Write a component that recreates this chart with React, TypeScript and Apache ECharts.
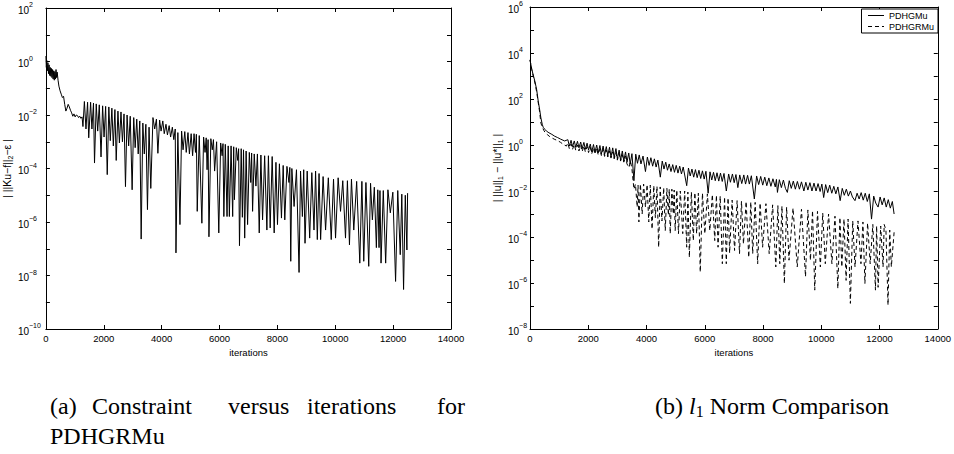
import React, { useEffect, useRef } from 'react';
import * as echarts from 'echarts';

// ---------- axis values ----------
const xMin = 0;
const xMax = 14000;
const xStep = 2000;
const leftYTicks = [1e2, 1e1, 1, 1e-1, 1e-2, 1e-3, 1e-4, 1e-5, 1e-6, 1e-7, 1e-8, 1e-9, 1e-10];
const leftYLabels = [1e2, 1, 1e-2, 1e-4, 1e-6, 1e-8, 1e-10];
const rightYTicks = [1e6, 1e5, 1e4, 1e3, 1e2, 1e1, 1, 1e-1, 1e-2, 1e-3, 1e-4, 1e-5, 1e-6, 1e-7, 1e-8];
const rightYLabels = [1e6, 1e4, 1e2, 1, 1e-2, 1e-4, 1e-6, 1e-8];
const legendNames = ['PDHGMu', 'PDHGRMu'];

// ---------- (a) constraint | ||Ku-f||_2 - eps | vs iterations ----------
const constraintData: [number, number][] = [
  [0, 1.6], [15, 0.6], [30, 1.1], [50, 0.45], [70, 0.9], [90, 0.35], [110, 0.75], [130, 0.3], [150, 0.6], [170, 0.28],
  [190, 0.55], [210, 0.25], [230, 0.5], [250, 0.22], [270, 0.45], [290, 0.2], [310, 0.42], [330, 0.22], [350, 0.5], [370, 0.25],
  [390, 0.4], [420, 0.2], [450, 0.12], [490, 0.08], [530, 0.06], [570, 0.045], [610, 0.05], [650, 0.025], [690, 0.014], [730, 0.018],
  [770, 0.025], [810, 0.02], [850, 0.015], [890, 0.012], [930, 0.009], [970, 0.011], [1010, 0.0085], [1050, 0.01], [1090, 0.0095], [1130, 0.008],
  [1170, 0.009], [1210, 0.0075], [1250, 0.0085], [1280, 0.0037],
  [1330, 0.032], [1385, 0.003], [1440, 0.03], [1480, 0.0014], [1545, 0.03], [1590, 0.003], [1645, 0.028], [1680, 0.00016],
  [1740, 0.026], [1790, 0.0025], [1845, 0.024], [1905, 0.00027], [1960, 0.022], [2010, 0.0015], [2065, 0.021], [2120, 0.000059],
  [2175, 0.02], [2225, 0.0011], [2280, 0.018], [2330, 0.0007], [2385, 0.016], [2430, 0.0002], [2490, 0.014], [2540, 0.0009],
  [2595, 0.013], [2645, 0.001], [2700, 0.011], [2750, 0.000021], [2805, 0.01], [2860, 0.0007], [2915, 0.009], [2980, 0.000016],
  [3035, 0.008], [3085, 0.0006], [3140, 0.007], [3190, 0.00035], [3245, 0.006], [3292, 2.3e-7], [3350, 0.005], [3400, 0.00035],
  [3455, 0.0045], [3510, 2.9e-6], [3565, 0.0035], [3625, 0.000018],
  [3700, 0.008], [3760, 0.003], [3820, 0.007], [3870, 0.00037], [3930, 0.0065], [3980, 0.0025], [4040, 0.006], [4090, 0.002],
  [4150, 0.0045], [4200, 0.0018], [4260, 0.004], [4310, 0.0015], [4370, 0.0035], [4420, 0.0012], [4470, 0.003], [4495, 7e-8],
  [4560, 0.0022], [4633, 8e-7], [4690, 0.0025], [4740, 0.0005], [4800, 0.0024], [4850, 0.0004], [4910, 0.0022], [4960, 0.00035],
  [5020, 0.002], [5070, 0.0003], [5120, 0.002], [5170, 0.0004], [5200, 0.0019], [5230, 2.5e-6], [5300, 0.0017], [5390, 9e-7],
  [5450, 0.0015], [5500, 0.0004], [5540, 0.0014], [5570, 0.00009], [5605, 0.0012], [5635, 2.8e-7], [5700, 0.0013], [5750, 0.0005],
  [5790, 0.0012], [5830, 0.00008], [5900, 0.001], [5975, 3.9e-7], [6040, 0.0009], [6090, 0.0003], [6120, 0.00085], [6150, 1.6e-6],
  [6200, 0.0008], [6260, 1.6e-6], [6300, 0.0007], [6340, 1.6e-6], [6400, 0.0007], [6455, 1.6e-6], [6490, 0.00065], [6515, 6.8e-6],
  [6580, 0.0006], [6630, 0.0002], [6660, 0.00055], [6690, 1.3e-7], [6750, 0.00055], [6790, 1.5e-6], [6830, 0.0005], [6870, 2.5e-7],
  [6920, 0.00045], [6970, 8e-7], [7030, 0.0004], [7080, 0.00003], [7110, 0.00038], [7143, 2.5e-6], [7200, 0.00035], [7258, 0.000022],
  [7310, 0.00035], [7373, 3.9e-7], [7430, 0.00032], [7488, 1.2e-6], [7560, 0.0003], [7637, 5e-7], [7690, 0.0003], [7751, 6e-7],
  [7820, 0.00028], [7889, 3.9e-7], [7950, 0.00017], [8003, 8e-7], [8070, 0.00015], [8141, 1.4e-6], [8200, 0.00013], [8256, 1.2e-6],
  [8330, 0.00012], [8400, 0.00003], [8430, 0.00011], [8462, 3.4e-8], [8500, 0.0001], [8577, 3.8e-6], [8660, 0.00009], [8749, 1.3e-8],
  [8800, 0.00008], [8864, 1.6e-6], [8910, 0.00009], [8955, 1.6e-7], [9030, 0.00008], [9116, 2.5e-7], [9190, 0.00007], [9265, 5e-7],
  [9320, 0.00008], [9380, 2.2e-7], [9440, 0.000065], [9494, 2.2e-7], [9580, 0.00005], [9666, 5e-7], [9760, 0.000045], [9861, 2.2e-7],
  [9940, 0.00004], [10010, 2.5e-7], [10100, 0.000045], [10182, 2.5e-6], [10260, 0.000035], [10354, 2.5e-7], [10420, 0.000035], [10491, 1.4e-7],
  [10560, 0.00004], [10640, 5e-7], [10740, 0.000033], [10848, 2.9e-8], [10920, 0.000033], [10985, 3.4e-8], [11060, 0.00003], [11157, 2.2e-8],
  [11220, 0.000028], [11283, 1.2e-6], [11350, 0.00002], [11421, 1.1e-7], [11470, 0.000016], [11513, 1.1e-7], [11545, 0.000015], [11582, 2.9e-8],
  [11660, 0.000015], [11742, 2.9e-8], [11820, 0.000016], [11903, 2.2e-6], [11990, 0.000013], [12085, 6e-9], [12160, 0.000015], [12246, 6e-8],
  [12300, 0.000011], [12361, 3e-9], [12420, 0.00001], [12476, 9e-8], [12500, 0.000012],
];

// ---------- (b) | ||u||_1 - ||u*||_1 | : PDHGMu (solid) ----------
const pdhgmuData: [number, number][] = [
  [0, 5000], [60, 2000], [120, 1000], [170, 575], [230, 250], [283, 80], [330, 35], [374, 15], [420, 8], [453, 5.9],
  [510, 4.8], [566, 4], [650, 3.4], [750, 2.9], [850, 2.4], [950, 2.1], [1050, 1.8], [1189, 1.5],
  [1300, 1.7], [1350, 0.9], [1410, 1.6], [1460, 0.85], [1520, 1.5], [1570, 0.8], [1630, 1.45], [1680, 0.75], [1740, 1.35], [1790, 0.7],
  [1850, 1.3], [1900, 0.65], [1960, 1.2], [2010, 0.6], [2070, 1.1], [2120, 0.5], [2180, 1.05], [2230, 0.48], [2290, 1.0], [2340, 0.45],
  [2400, 0.95], [2450, 0.4], [2510, 0.9], [2560, 0.38], [2620, 0.85], [2670, 0.35], [2730, 0.8], [2780, 0.3], [2840, 0.75], [2890, 0.28],
  [2950, 0.7], [3000, 0.25], [3060, 0.6], [3110, 0.22], [3170, 0.55], [3220, 0.2], [3280, 0.5], [3330, 0.18], [3390, 0.45], [3440, 0.15],
  [3500, 0.42], [3568, 0.028], [3630, 0.4], [3690, 0.16], [3750, 0.37], [3810, 0.15], [3880, 0.33], [3964, 0.07], [4030, 0.3], [4090, 0.13],
  [4150, 0.28], [4210, 0.12], [4270, 0.25], [4330, 0.11], [4390, 0.22], [4474, 0.04], [4540, 0.2], [4600, 0.09], [4660, 0.18], [4720, 0.08],
  [4780, 0.15], [4840, 0.07], [4900, 0.14], [4960, 0.065], [5020, 0.13], [5080, 0.06], [5140, 0.12], [5200, 0.055], [5260, 0.11], [5380, 0.017],
  [5440, 0.1], [5500, 0.045], [5560, 0.09], [5620, 0.04], [5680, 0.085], [5740, 0.038], [5800, 0.08], [5860, 0.035], [5920, 0.075], [5980, 0.033],
  [6040, 0.072], [6116, 0.008], [6180, 0.068], [6240, 0.03], [6300, 0.065], [6360, 0.028], [6420, 0.062], [6480, 0.027], [6540, 0.06], [6600, 0.026],
  [6660, 0.058], [6740, 0.01], [6820, 0.055], [6880, 0.024], [6950, 0.055], [7010, 0.023], [7070, 0.052], [7136, 0.014], [7200, 0.05], [7270, 0.021],
  [7340, 0.05], [7400, 0.02], [7470, 0.048], [7530, 0.02], [7600, 0.046], [7702, 0.0045], [7780, 0.045], [7850, 0.019], [7920, 0.043], [7990, 0.018],
  [8060, 0.04], [8130, 0.017], [8200, 0.037], [8270, 0.016], [8340, 0.034], [8420, 0.015], [8460, 0.032], [8495, 0.0087], [8560, 0.031], [8630, 0.014],
  [8700, 0.03], [8770, 0.013], [8835, 0.0087], [8900, 0.028], [8970, 0.013], [9040, 0.027], [9110, 0.012], [9180, 0.026], [9250, 0.012], [9320, 0.025],
  [9402, 0.01], [9470, 0.024], [9540, 0.011], [9610, 0.023], [9680, 0.01], [9750, 0.022], [9820, 0.01], [9890, 0.021], [9960, 0.0095], [10020, 0.02],
  [10082, 0.0052], [10150, 0.019], [10220, 0.0085], [10290, 0.018], [10360, 0.008], [10430, 0.016], [10500, 0.0075], [10570, 0.015], [10648, 0.0038], [10720, 0.013],
  [10790, 0.0065], [10860, 0.012], [10930, 0.006], [11000, 0.01], [11070, 0.0055], [11157, 0.0038], [11230, 0.008], [11300, 0.0045], [11370, 0.0085], [11440, 0.004],
  [11510, 0.008], [11580, 0.0035], [11650, 0.0075], [11725, 0.0006], [11800, 0.006], [11870, 0.003], [11951, 0.002], [12020, 0.0055], [12090, 0.0025], [12160, 0.005],
  [12230, 0.002], [12300, 0.0042], [12370, 0.0018], [12440, 0.0035], [12500, 0.001],
];

// ---------- (b) PDHGRMu (dashed) ----------
const pdhgrmuData: [number, number][] = [
  [0, 5000], [60, 1900], [120, 900], [170, 500], [230, 200], [283, 70], [330, 28], [374, 9], [420, 6], [480, 4.2],
  [540, 3.2], [600, 2.8], [680, 2.3], [760, 2], [850, 1.75], [950, 1.55], [1050, 1.3], [1150, 1.05], [1250, 0.9],
  [1300, 1.2], [1350, 0.7], [1410, 1.1], [1460, 0.65], [1520, 1.05], [1570, 0.6], [1630, 1.0], [1680, 0.55], [1740, 0.95], [1790, 0.52],
  [1850, 0.9], [1900, 0.5], [1960, 0.85], [2010, 0.47], [2070, 0.8], [2120, 0.42], [2180, 0.75], [2230, 0.4], [2290, 0.72], [2340, 0.38],
  [2400, 0.68], [2450, 0.35], [2510, 0.65], [2560, 0.32], [2620, 0.6], [2670, 0.3], [2730, 0.55], [2780, 0.27], [2840, 0.5], [2890, 0.25],
  [2950, 0.46], [3000, 0.22], [3060, 0.42], [3110, 0.2], [3170, 0.38], [3220, 0.18], [3280, 0.33], [3330, 0.15], [3398, 0.105], [3450, 0.2],
  [3500, 0.09], [3568, 0.012], [3620, 0.02], [3680, 0.002], [3710, 0.018], [3738, 0.00045], [3790, 0.02], [3851, 0.001], [3900, 0.02], [3964, 0.002],
  [4020, 0.019], [4077, 0.00045], [4130, 0.018], [4191, 0.00022], [4250, 0.017], [4304, 0.0007], [4360, 0.016], [4417, 0.000036], [4470, 0.015], [4530, 0.0005],
  [4590, 0.014], [4644, 0.00019], [4700, 0.013], [4750, 0.0009], [4780, 0.012], [4814, 0.00014], [4870, 0.012], [4920, 0.001], [4950, 0.011], [4984, 0.00019],
  [5040, 0.011], [5097, 0.00014], [5160, 0.01], [5244, 0.00014], [5310, 0.01], [5380, 0.000036], [5420, 0.009], [5471, 0.000013], [5540, 0.009], [5607, 0.00007],
  [5660, 0.0085], [5720, 0.00014], [5780, 0.008], [5845, 3e-6], [5920, 0.008], [6003, 0.00014], [6090, 0.0075], [6173, 0.00019], [6260, 0.007], [6343, 0.00007],
  [6400, 0.0065], [6456, 0.000036], [6530, 0.006], [6603, 6.9e-6], [6680, 0.0055], [6739, 6.9e-6], [6800, 0.005], [6853, 0.00002], [6940, 0.004], [7023, 0.000026],
  [7110, 0.0038], [7193, 0.000019], [7260, 0.0036], [7328, 0.00005], [7420, 0.0035], [7510, 0.000013], [7580, 0.0033], [7646, 0.000019], [7730, 0.0032], [7816, 6.9e-6],
  [7900, 0.003], [7986, 0.000036], [8100, 0.0028], [8212, 0.000019], [8330, 0.0025], [8439, 5e-6], [8510, 0.0023], [8575, 6.9e-6], [8650, 0.0022], [8733, 9.5e-7],
  [8810, 0.002], [8892, 9.8e-6], [9030, 0.0018], [9175, 5e-6], [9320, 0.0016], [9459, 1.9e-6], [9540, 0.0015], [9628, 9.8e-6], [9700, 0.0014], [9776, 4.9e-7],
  [9870, 0.0013], [9968, 5e-6], [10050, 0.0011], [10138, 6.9e-6], [10250, 0.001], [10365, 6.9e-6], [10470, 0.0008], [10569, 5.8e-7], [10640, 0.0007], [10705, 5e-6],
  [10780, 0.0006], [10852, 1.3e-6], [10920, 0.0006], [10999, 1.3e-7], [11080, 0.0005], [11158, 5e-6], [11260, 0.0005], [11362, 6.9e-6], [11430, 0.00045], [11498, 9.5e-7],
  [11590, 0.0004], [11679, 6.9e-6], [11770, 0.00035], [11860, 4.9e-7], [11900, 0.0003], [11951, 6.5e-7], [12040, 0.0003], [12121, 5e-6], [12160, 0.00035], [12220, 0.0002],
  [12291, 1.1e-7], [12350, 0.0002], [12405, 5e-6], [12500, 0.00016],
];

const SANS = '"Liberation Sans", Arial, Helvetica, sans-serif';
const SERIF = '"Liberation Serif", "Times New Roman", serif';

export default function App() {
  const ref = useRef<HTMLDivElement>(null);

  useEffect(() => {
    const el = ref.current;
    if (!el) return;
    const chart = echarts.init(el, null, { renderer: 'svg' });

    const supLabel = (v: number) => {
      const e = Math.round(Math.log10(v));
      return `{b|10}{s|${e < 0 ? '−' + -e : e}}`;
    };
    const labelRich = {
      b: { fontSize: 10, fontFamily: SANS, color: '#000', lineHeight: 14, verticalAlign: 'bottom' },
      s: { fontSize: 7, fontFamily: SANS, color: '#000', lineHeight: 8, verticalAlign: 'top' },
    };
    const black = { color: '#000', width: 1 };

    const xAxis = (gridIndex: number, bottom: boolean) => ({
      type: 'value',
      gridIndex,
      min: xMin,
      max: xMax,
      interval: xStep,
      position: bottom ? 'bottom' : 'top',
      axisLine: { show: true, onZero: false, lineStyle: black },
      axisTick: { show: true, inside: true, length: 4, lineStyle: black },
      axisLabel: bottom
        ? { show: true, color: '#000', fontSize: 9.5, fontFamily: SANS, margin: 4, formatter: (v: number) => String(v) }
        : { show: false },
      splitLine: { show: false },
      name: bottom ? 'iterations' : '',
      nameLocation: 'middle',
      nameGap: 16,
      nameTextStyle: { color: '#000', fontSize: 9.5, fontFamily: SANS, verticalAlign: 'top' },
    });

    const yAxis = (
      gridIndex: number,
      left: boolean,
      min: number,
      max: number,
      ticks: number[],
      labels: number[],
      margin: number,
      name: string,
      nameGap: number,
    ) => ({
      type: 'log',
      logBase: 10,
      gridIndex,
      min,
      max,
      position: left ? 'left' : 'right',
      axisLine: { show: true, onZero: false, lineStyle: black },
      axisTick: { show: true, inside: true, length: 4, lineStyle: black, customValues: ticks },
      axisLabel: left
        ? { show: true, customValues: labels, formatter: supLabel, rich: labelRich, align: 'left', margin }
        : { show: false },
      splitLine: { show: false },
      minorTick: { show: false },
      name: left ? name : '',
      nameLocation: 'middle',
      nameRotate: 90,
      nameGap,
      nameTextStyle: {
        color: '#000',
        fontSize: 10.5,
        fontFamily: SANS,
        rich: { sub: { fontSize: 7, fontFamily: SANS, color: '#000', verticalAlign: 'bottom', lineHeight: 15 } },
      },
    });

    const option: any = {
      animation: false,
      backgroundColor: '#fff',
      grid: [
        { left: 44, top: 8, width: 407, height: 321, containLabel: false },
        { left: 530, top: 5, width: 412, height: 324, containLabel: false },
      ],
      xAxis: [xAxis(0, true), xAxis(0, false), xAxis(1, true), xAxis(1, false)],
      yAxis: [
        yAxis(0, true, 1e-10, 1e2, leftYTicks, leftYLabels, 28, '| ||Ku−f||{sub|2}−ε |', 25),
        yAxis(0, false, 1e-10, 1e2, leftYTicks, leftYLabels, 28, '', 25),
        yAxis(1, true, 1e-8, 1e6, rightYTicks, rightYLabels, 22, '| ||u||{sub|1} − ||u*||{sub|1} |', 23),
        yAxis(1, false, 1e-8, 1e6, rightYTicks, rightYLabels, 22, '', 23),
      ],
      legend: {
        data: legendNames,
        orient: 'vertical',
        right: 16,
        top: 9,
        itemWidth: 16,
        itemHeight: 7,
        itemGap: 2,
        padding: [2, 4, 2, 6],
        borderColor: '#000',
        borderWidth: 1,
        backgroundColor: '#fff',
        itemStyle: { opacity: 0, color: 'rgba(0,0,0,0)', borderColor: 'rgba(0,0,0,0)', borderWidth: 0 },
        lineStyle: { width: 1, color: '#000' },
        textStyle: { color: '#000', fontSize: 9, fontFamily: SANS },
      },
      series: [
        {
          type: 'line',
          name: 'constraint',
          xAxisIndex: 0,
          yAxisIndex: 0,
          data: constraintData,
          symbol: 'none',
          showSymbol: false,
          lineStyle: { color: '#000', width: 1 },
          itemStyle: { color: '#000' },
        },
        {
          type: 'line',
          name: legendNames[0],
          xAxisIndex: 2,
          yAxisIndex: 2,
          data: pdhgmuData,
          symbol: 'none',
          showSymbol: false,
          lineStyle: { color: '#000', width: 1 },
          itemStyle: { color: '#000' },
          z: 3,
        },
        {
          type: 'line',
          name: legendNames[1],
          xAxisIndex: 2,
          yAxisIndex: 2,
          data: pdhgrmuData,
          symbol: 'none',
          showSymbol: false,
          lineStyle: { color: '#000', width: 1, type: [4, 3] },
          itemStyle: { color: '#000' },
          z: 2,
        },
      ],
      graphic: [
        { type: 'text', x: 50, y: 406, style: { text: '(a)', font: `24px ${SERIF}`, fill: '#000', verticalAlign: 'middle' } },
        { type: 'text', x: 92, y: 406, style: { text: 'Constraint', font: `24px ${SERIF}`, fill: '#000', verticalAlign: 'middle' } },
        { type: 'text', x: 228, y: 406, style: { text: 'versus', font: `24px ${SERIF}`, fill: '#000', verticalAlign: 'middle' } },
        { type: 'text', x: 307, y: 406, style: { text: 'iterations', font: `24px ${SERIF}`, fill: '#000', verticalAlign: 'middle' } },
        { type: 'text', x: 437, y: 406, style: { text: 'for', font: `24px ${SERIF}`, fill: '#000', verticalAlign: 'middle' } },
        { type: 'text', x: 50, y: 436, style: { text: 'PDHGRMu', font: `24px ${SERIF}`, fill: '#000', verticalAlign: 'middle' } },
        {
          type: 'text',
          x: 655,
          y: 406,
          style: {
            text: '(b) {i|l}{sub|1} Norm Comparison',
            font: `24px ${SERIF}`,
            fill: '#000',
            verticalAlign: 'middle',
            rich: {
              i: { fontStyle: 'italic', fontSize: 24, fontFamily: SERIF, fill: '#000', lineHeight: 26, verticalAlign: 'middle' },
              sub: { fontSize: 16, fontFamily: SERIF, fill: '#000', lineHeight: 16, verticalAlign: 'bottom' },
            },
          },
        },
      ],
    };

    chart.setOption(option);
    return () => {
      chart.dispose();
    };
  }, []);

  return (
    <div
      ref={ref}
      style={{ position: 'absolute', left: 0, top: 0, width: 954, height: 454, background: '#fff' }}
    />
  );
}
